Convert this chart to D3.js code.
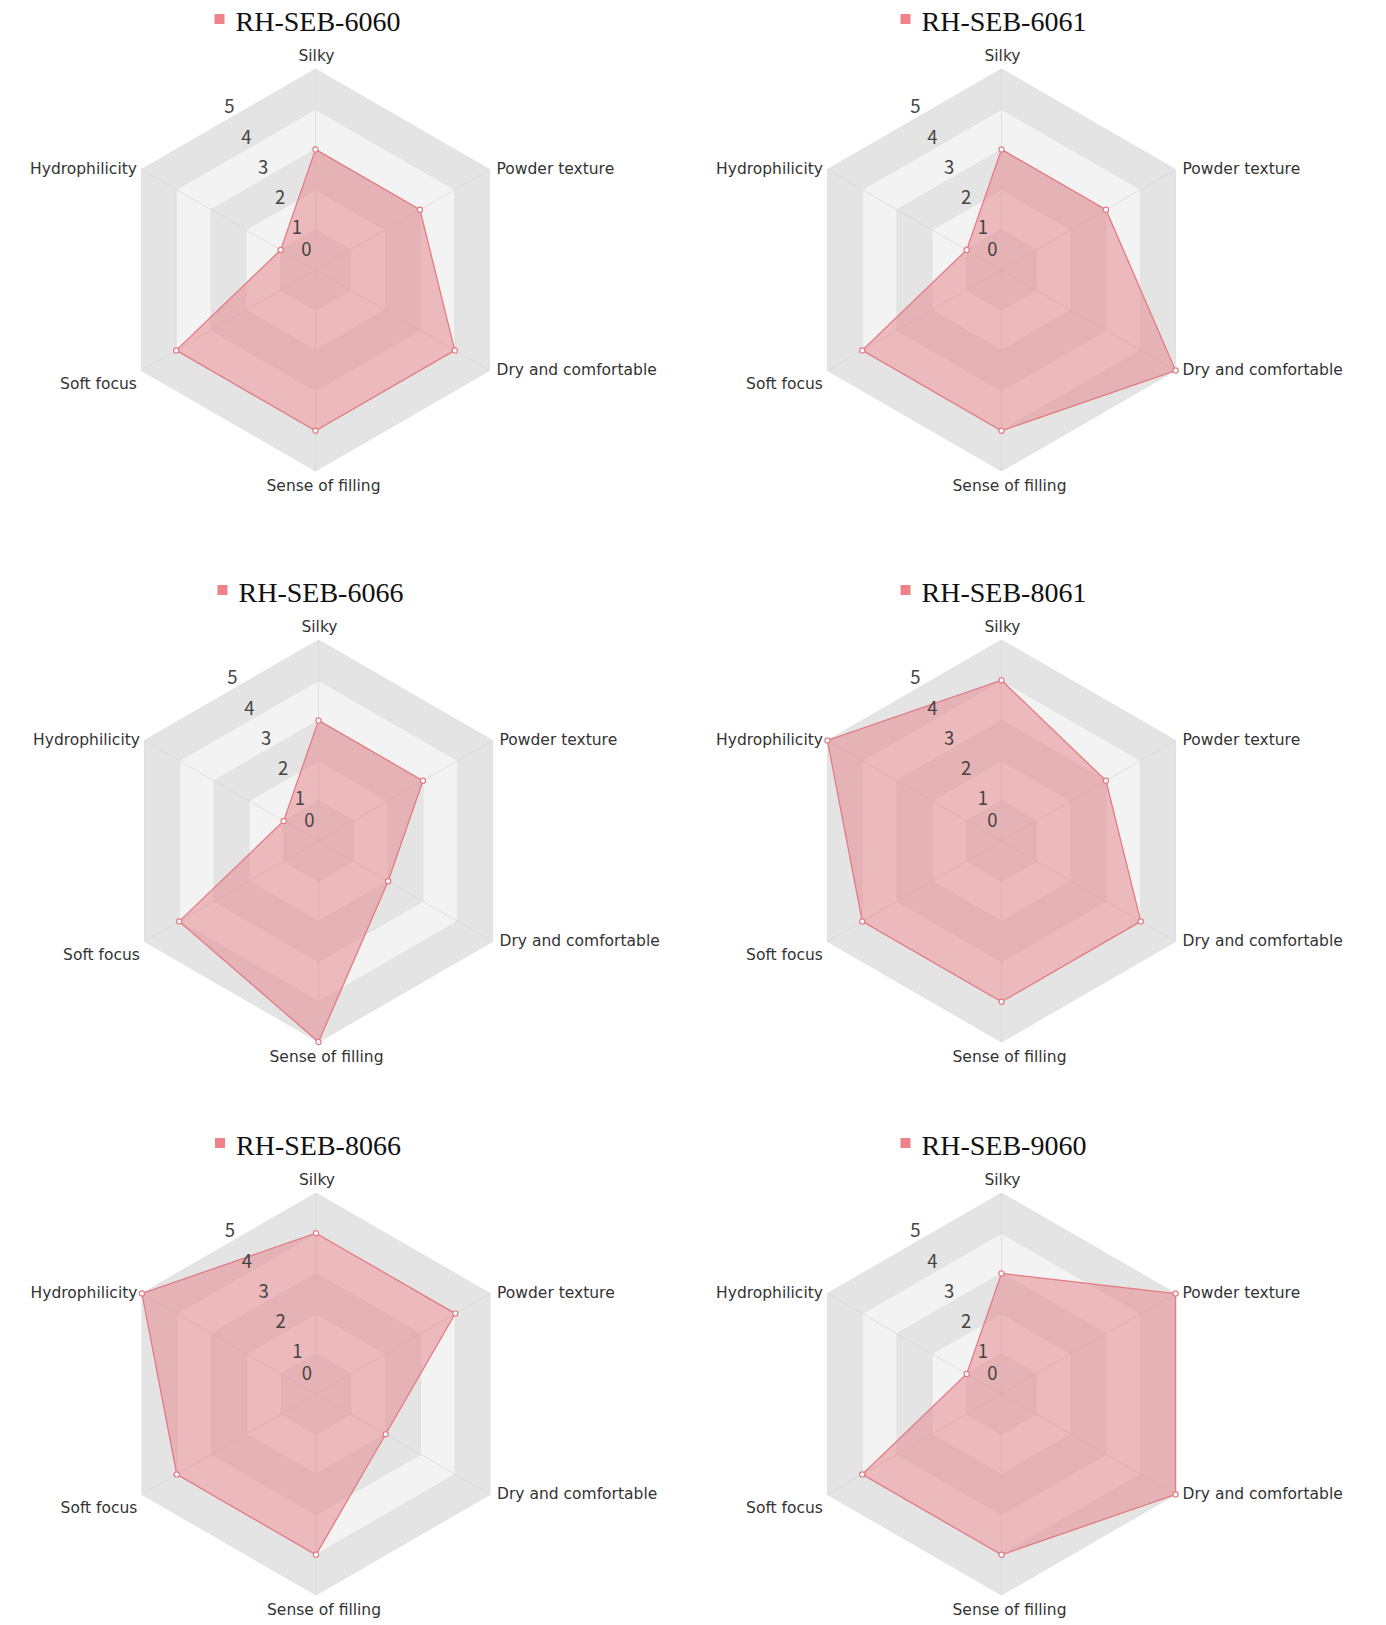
<!DOCTYPE html>
<html>
<head>
<meta charset="utf-8">
<script src="https://cdn.jsdelivr.net/npm/d3@7"></script>
<style>
    body { margin: 0; background: #ffffff; }
</style>
</head>
<body>
<div id="graph"></div>
<script>
// The data...
var indicators  = [ 'Silky', 'Powder texture', 'Dry and comfortable', 'Sense of filling', 'Soft focus', 'Hydrophilicity' ];
var sampleNames = [ 'RH-SEB-6060', 'RH-SEB-6061', 'RH-SEB-6066', 'RH-SEB-8061', 'RH-SEB-8066', 'RH-SEB-9060' ];

var scores6060 = [ 3, 3, 4, 4, 4, 1 ];
var scores6061 = [ 3, 3, 5, 4, 4, 1 ];
var scores6066 = [ 3, 3, 2, 5, 4, 1 ];
var scores8061 = [ 4, 3, 4, 4, 4, 5 ];
var scores8066 = [ 4, 4, 2, 4, 4, 5 ];
var scores9060 = [ 3, 5, 5, 4, 4, 1 ];

var tickValues = [ 0, 1, 2, 3, 4, 5 ];

var allScores = [ scores6060, scores6061, scores6066, scores8061, scores8066, scores9060 ];

// layout of the six radars (centres)
var panels = [
    { cx: 315.5,  cy: 270  },
    { cx: 1001.5, cy: 270  },
    { cx: 318.5,  cy: 841  },
    { cx: 1001.5, cy: 841  },
    { cx: 316,    cy: 1394 },
    { cx: 1001.5, cy: 1394 }
];

var radius = 201;

var lineColour   = '#e27c83';
var fillColour   = '#e57f86';
var legendColour = '#ef8189';
var bandColours  = [ '#f3f3f3', '#e4e4e4' ];

// label placement per axis: anchor, dx, dy
var nameStyle = [
    { anchor: 'middle', dx: 1,    dy: -13 },
    { anchor: 'start',  dx: 7,    dy: -1  },
    { anchor: 'start',  dx: 7,    dy: -1  },
    { anchor: 'middle', dx: 8,    dy: 15  },
    { anchor: 'end',    dx: -4.5, dy: 13  },
    { anchor: 'end',    dx: -4.5, dy: -1  }
];

var svg = d3.select ('#graph').append ('svg')
            .attr ('width', 1386)
            .attr ('height', 1625);

var rScale = d3.scaleLinear ()
               .domain ( [ 0, 5 ] )
               .range ( [ 0, radius ] );

// tick labels run up and to the left of the centre
var tickX = d3.scaleLinear ().domain ( [ 0, 1, 5 ] ).range ( [ -9, -18.5, -86 ] );
var tickY = d3.scaleLinear ().domain ( [ 0, 1, 5 ] ).range ( [ -20.7, -42.3, -163 ] );

function angleOf (k)
{
    return -Math.PI / 2 + k * Math.PI / 3;
}

function pointAt (k, v)
{
    return [ rScale (v) * Math.cos (angleOf (k)), rScale (v) * Math.sin (angleOf (k)) ];
}

var closedLine = d3.line ().curve (d3.curveLinearClosed);

for (var p = 0; p < panels.length; p++)
{
    var g = svg.append ('g')
               .attr ('transform', 'translate(' + panels[p].cx + ',' + panels[p].cy + ')');

    // split areas, outside in
    for (var lv = 5; lv >= 1; lv--)
    {
        var ring = indicators.map (function (d, k) { return pointAt (k, lv); });

        g.append ('path')
         .attr ('d', closedLine (ring))
         .attr ('fill', bandColours[lv % 2])
         .attr ('stroke', '#dddddd')
         .attr ('stroke-width', 0.8);
    }

    // axis lines
    g.selectAll ('line.axis')
     .data (indicators)
     .enter ()
     .append ('line')
     .attr ('class', 'axis')
     .attr ('x1', 0)
     .attr ('y1', 0)
     .attr ('x2', function (d, k) { return pointAt (k, 5)[0]; })
     .attr ('y2', function (d, k) { return pointAt (k, 5)[1]; })
     .attr ('stroke', '#d9d9d9')
     .attr ('stroke-width', 0.8);

    // the data polygon
    var scores = allScores[p];
    var pts = scores.map (function (v, k) { return pointAt (k, v); });

    g.append ('path')
     .attr ('d', closedLine (pts))
     .attr ('fill', fillColour)
     .attr ('fill-opacity', 0.5)
     .attr ('stroke', lineColour)
     .attr ('stroke-width', 1.3);

    g.selectAll ('circle')
     .data (scores)
     .enter ()
     .append ('circle')
     .attr ('cx', function (d, k) { return pointAt (k, d)[0]; })
     .attr ('cy', function (d, k) { return pointAt (k, d)[1]; })
     .attr ('r', 2.6)
     .attr ('fill', '#ffffff')
     .attr ('stroke', lineColour)
     .attr ('stroke-width', 1.2);

    // tick labels
    g.selectAll ('text.tick')
     .data (tickValues)
     .enter ()
     .append ('text')
     .attr ('class', 'tick')
     .attr ('x', function (d) { return tickX (d); })
     .attr ('y', function (d) { return tickY (d); })
     .attr ('dy', '0.35em')
     .attr ('text-anchor', 'middle')
     .attr ('font-family', '"Noto Sans CJK SC", "Noto Sans", sans-serif')
     .attr ('font-size', '18.5px')
     .attr ('fill', '#444444')
     .text (function (d) { return d; });

    // axis names
    g.selectAll ('text.name')
     .data (indicators)
     .enter ()
     .append ('text')
     .attr ('class', 'name')
     .attr ('x', function (d, k) { return pointAt (k, 5)[0] + nameStyle[k].dx; })
     .attr ('y', function (d, k) { return pointAt (k, 5)[1] + nameStyle[k].dy; })
     .attr ('dy', '0.35em')
     .attr ('text-anchor', function (d, k) { return nameStyle[k].anchor; })
     .attr ('font-family', '"DejaVu Sans", sans-serif')
     .attr ('font-size', '15.5px')
     .attr ('fill', '#333333')
     .text (function (d) { return d; });

    // legend / title
    g.append ('rect')
     .attr ('x', -101)
     .attr ('y', -256)
     .attr ('width', 10)
     .attr ('height', 10)
     .attr ('fill', legendColour);

    g.append ('text')
     .attr ('x', -80)
     .attr ('y', -239.5)
     .attr ('font-family', '"Liberation Serif", "Times New Roman", serif')
     .attr ('font-size', '28px')
     .attr ('fill', '#111111')
     .text (sampleNames[p]);
}
</script>
</body>
</html>
